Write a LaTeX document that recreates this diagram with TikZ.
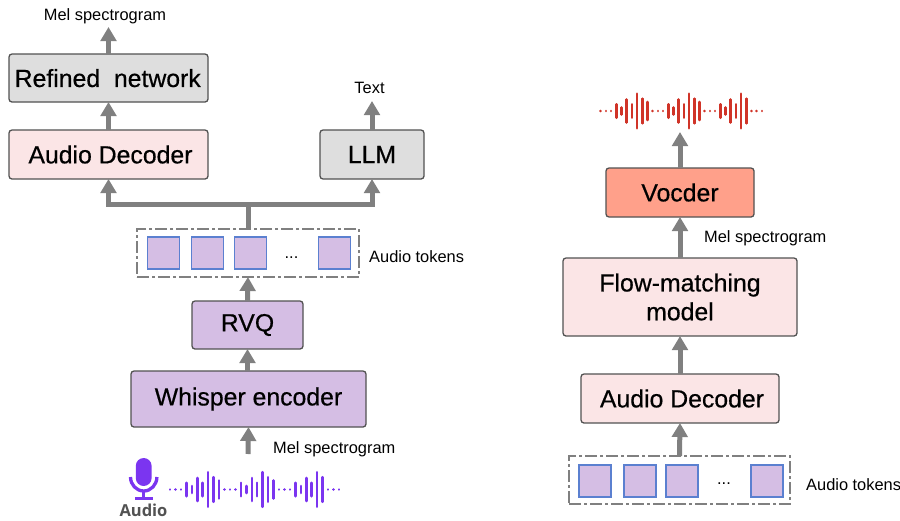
\documentclass[tikz,border=0pt]{standalone}
\usepackage{fontspec}
\setmainfont{Liberation Sans}
\newfontfamily\blockfont[FakeBold=0.5]{Liberation Sans}
\newfontfamily\audiofont{Open Sans}
\usetikzlibrary{arrows.meta,calc}
\definecolor{boxgray}{HTML}{DEDEDE}
\definecolor{boxpink}{HTML}{FBE5E6}
\definecolor{boxpurple}{HTML}{D5BEE4}
\definecolor{boxsalmon}{HTML}{FFA08A}
\definecolor{tokenblue}{HTML}{5B80D0}
\definecolor{arrowgray}{HTML}{808080}
\definecolor{wavepurple}{HTML}{7B35F0}
\definecolor{wavered}{HTML}{D03428}
\newcommand{\pxfont}[1]{\fontsize{#1}{#1}\selectfont}
\newcommand{\drawwave}[4]{%
  % x0, y, step, colour
  \foreach \i/\h in {0/0,1/0,2/0,3/6.7,4/3.5,5/11.5,6/6.7,7/17.3,8/12.3,9/9,
                     10/0,11/0,12/0,13/6.7,14/3.5,15/11.5,16/6.7,17/17.3,18/12.3,19/9,
                     20/0,21/0,22/0,23/6.7,24/3.5,25/11.5,26/6.7,27/17.3,28/12.3,
                     29/0,30/0,31/0}{
    \draw[#4,line width=2.5pt,line cap=round] ({#1+\i*#3},{#2-\h-0.05}) -- ({#1+\i*#3},{#2+\h+0.05});
  }}
\tikzset{
  x=1pt,y=-1pt,
  blockbox/.style={draw=black!68,line width=1.3pt,rounded corners=3pt,inner sep=0pt,outer sep=0pt,align=center,text=black,font=\blockfont\pxfont{24.8}},
  tokenbox/.style={draw=tokenblue,fill=boxpurple,line width=1.2pt,minimum width=32pt,minimum height=32pt,inner sep=0pt,outer sep=0pt},
  groupbox/.style={draw=arrowgray,line width=1.1pt,dash pattern=on 12pt off 3pt on 3pt off 3pt,inner sep=0pt,outer sep=0pt},
  arrowline/.style={draw=arrowgray,line width=5pt,-{Triangle[length=14pt,width=15.5pt]}},
  busline/.style={draw=arrowgray,line width=5pt},
  smalltext/.style={font=\pxfont{16.4},text=black,inner sep=0pt},
}
\begin{document}
\begin{tikzpicture}
\useasboundingbox (0,0) rectangle (900,520);
% left column
\node[blockbox,fill=boxgray,minimum width=199pt,minimum height=48pt,text depth=0pt] (refined) at (108.5,78) {\hspace*{-1.5pt}Refined\ \ network};
\node[blockbox,fill=boxpink,minimum width=199pt,minimum height=49pt] (adec) at (108.5,154.5) {\hspace*{4pt}Audio Decoder};
\node[blockbox,fill=boxgray,minimum width=104pt,minimum height=49pt] (llm) at (372,154.5) {LLM};
\node[groupbox,minimum width=222pt,minimum height=48pt] (lgroup) at (248,253) {};
\node[tokenbox] (lt1) at (163.5,253) {};
\node[tokenbox] (lt2) at (207.5,253) {};
\node[tokenbox] (lt3) at (250.5,253) {};
\node[tokenbox] (lt4) at (334.5,253) {};
\node[font=\pxfont{16.4},inner sep=0pt] (ldots) at (291.5,257.5) {...};
\node[blockbox,fill=boxpurple,minimum width=111pt,minimum height=48pt] (rvq) at (247.5,325) {RVQ};
\node[blockbox,fill=boxpurple,minimum width=235pt,minimum height=56pt] (whisper) at (248.5,399) {Whisper encoder};
\node[smalltext] (melt) at (105,16.5) {Mel spectrogram};
\coordinate (meltop) at (108.5,27);
\node[smalltext] (textl) at (369.5,87.5) {Text};
\coordinate (texttop) at (372,101);
\node[smalltext,anchor=west] (atl) at (369,256.5) {Audio tokens};
\node[smalltext,anchor=west] (mell) at (273,449) {Mel spectrogram};
\coordinate (melin) at (248,454);
\coordinate (busm) at (248,204);
\draw[arrowline] (melin) -- (whisper.south);
\draw[arrowline] (whisper.north -| rvq) -- (rvq.south);
\draw[arrowline] (rvq.north) -- (lgroup.south);
\draw[busline] (lgroup.north) -- (busm);
\draw[arrowline] (busm) -| (adec.south);
\draw[arrowline] (busm) -| (llm.south);
\draw[arrowline] (adec.north) -- (refined.south);
\draw[arrowline] (refined.north) -- (meltop);
\draw[arrowline] (llm.north) -- (texttop);
% microphone
\fill[wavepurple,rounded corners=7.9pt] (135.8,458) rectangle (151.6,486);
\draw[wavepurple,line width=3.3pt] (130.5,477) arc[start angle=180,end angle=0,x radius=13.2pt,y radius=-14pt];
\draw[wavepurple,line width=3.3pt] (143.7,491) -- (143.7,499);
\draw[wavepurple,line width=3.3pt] (135,498.5) -- (153,498.5);
\node[font=\audiofont\bfseries\pxfont{16.5},text=black!68,inner sep=0pt,anchor=base] (audio) at (143.5,516.5) {Audio};
\drawwave{170}{489.5}{5.45}{wavepurple}
% right column
\node[blockbox,fill=boxsalmon,minimum width=148pt,minimum height=49pt] (voc) at (680,192.5) {Vocder};
\node[blockbox,fill=boxpink,minimum width=234pt,minimum height=78pt] (flow) at (680,297) {Flow-matching\\[4pt]model};
\node[blockbox,fill=boxpink,minimum width=198pt,minimum height=49pt] (rdec) at (680,398.5) {\hspace*{4pt}Audio Decoder};
\node[groupbox,minimum width=221pt,minimum height=48pt] (rgroup) at (679.5,480) {};
\node[tokenbox] (rt1) at (595,481) {};
\node[tokenbox] (rt2) at (640,481) {};
\node[tokenbox] (rt3) at (682,481) {};
\node[tokenbox] (rt4) at (767,481) {};
\node[font=\pxfont{16.4},inner sep=0pt] (rdots) at (724,484) {...};
\node[smalltext,anchor=west] (atr) at (806,484.5) {Audio tokens};
\node[smalltext,anchor=west] (melr) at (704,238.5) {Mel spectrogram};
\coordinate (wavein) at (680,132);
\draw[arrowline] (rgroup.north) -- (rdec.south);
\draw[arrowline] (rdec.north) -- (flow.south);
\draw[arrowline] (flow.north) -- (voc.south);
\draw[arrowline] (voc.north) -- (wavein);
\drawwave{600.7}{111}{5.2}{wavered}
\end{tikzpicture}
\end{document}
